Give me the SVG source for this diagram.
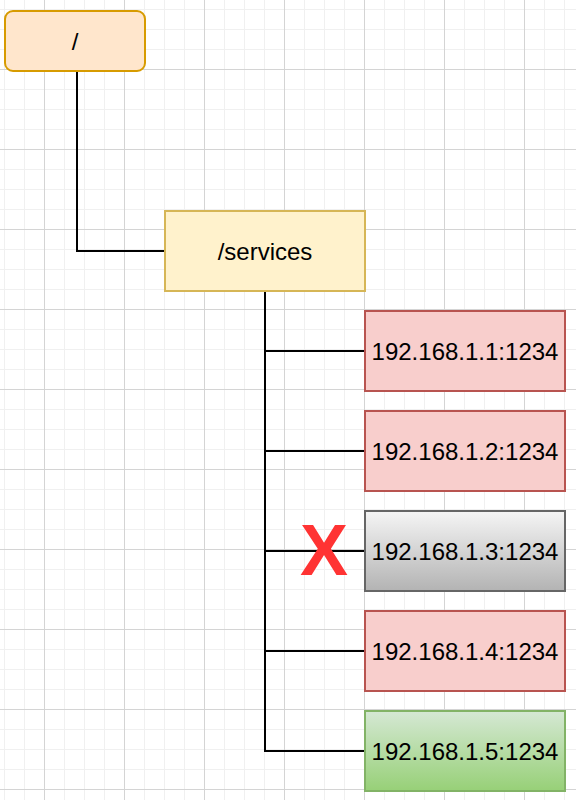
<svg xmlns="http://www.w3.org/2000/svg" width="576" height="800" viewBox="0 0 576 800">
<defs>
<pattern id="grid" patternUnits="userSpaceOnUse" x="44" y="69" width="80" height="80">
<path d="M20.5 0V80M40.5 0V80M60.5 0V80M0 20.5H80M0 40.5H80M0 60.5H80" stroke="#f0f0f0" stroke-width="1" fill="none"/>
<path d="M0.5 0V80M0 0.5H80" stroke="#d4d4d4" stroke-width="1" fill="none"/>
</pattern>
<linearGradient id="gGray" x1="0" y1="0" x2="0" y2="1">
<stop offset="0" stop-color="#f5f5f5"/>
<stop offset="1" stop-color="#b3b3b3"/>
</linearGradient>
<linearGradient id="gGreen" x1="0" y1="0" x2="0" y2="1">
<stop offset="0" stop-color="#d5e8d4"/>
<stop offset="1" stop-color="#97d077"/>
</linearGradient>
</defs>
<style>
text{font-family:"Liberation Sans",Arial,sans-serif;font-size:24px;fill:#000;text-anchor:middle}
.red{fill:#f8cecc;stroke:#b85450;stroke-width:2}
.conn{fill:none;stroke:#000;stroke-width:2}
</style>
<rect width="576" height="800" fill="#fff"/>
<rect width="576" height="800" fill="url(#grid)"/>
<g id="connectors">
<path class="conn" d="M77 71V251H165"/>
<path class="conn" d="M265 291V751H365M265 351H365M265 451H365M265 551H365M265 651H365"/>
</g>
<g id="root">
<rect x="5" y="11" width="140" height="60" rx="8" fill="#ffe6cc" stroke="#d79b00" stroke-width="2"/>
<text x="75" y="49.5">/</text>
</g>
<g id="services">
<rect x="165" y="211" width="200" height="80" fill="#fff2cc" stroke="#d6b656" stroke-width="2"/>
<text x="265" y="259.5">/services</text>
</g>
<g id="ip1">
<rect class="red" x="365" y="311" width="200" height="80"/>
<text x="465" y="359.5">192.168.1.1:1234</text>
</g>
<g id="ip2">
<rect class="red" x="365" y="411" width="200" height="80"/>
<text x="465" y="459.5">192.168.1.2:1234</text>
</g>
<g id="ip3">
<rect x="365" y="511" width="200" height="80" fill="url(#gGray)" stroke="#666666" stroke-width="2"/>
<text x="465" y="559.5">192.168.1.3:1234</text>
</g>
<g id="ip4">
<rect class="red" x="365" y="611" width="200" height="80"/>
<text x="465" y="659.5">192.168.1.4:1234</text>
</g>
<g id="ip5">
<rect x="365" y="711" width="200" height="80" fill="url(#gGreen)" stroke="#82b366" stroke-width="2"/>
<text x="465" y="759.5">192.168.1.5:1234</text>
</g>
<g id="mark">
<text x="324" y="575" style="font-size:72px;font-weight:bold;fill:#ff3333">X</text>
</g>
</svg>
